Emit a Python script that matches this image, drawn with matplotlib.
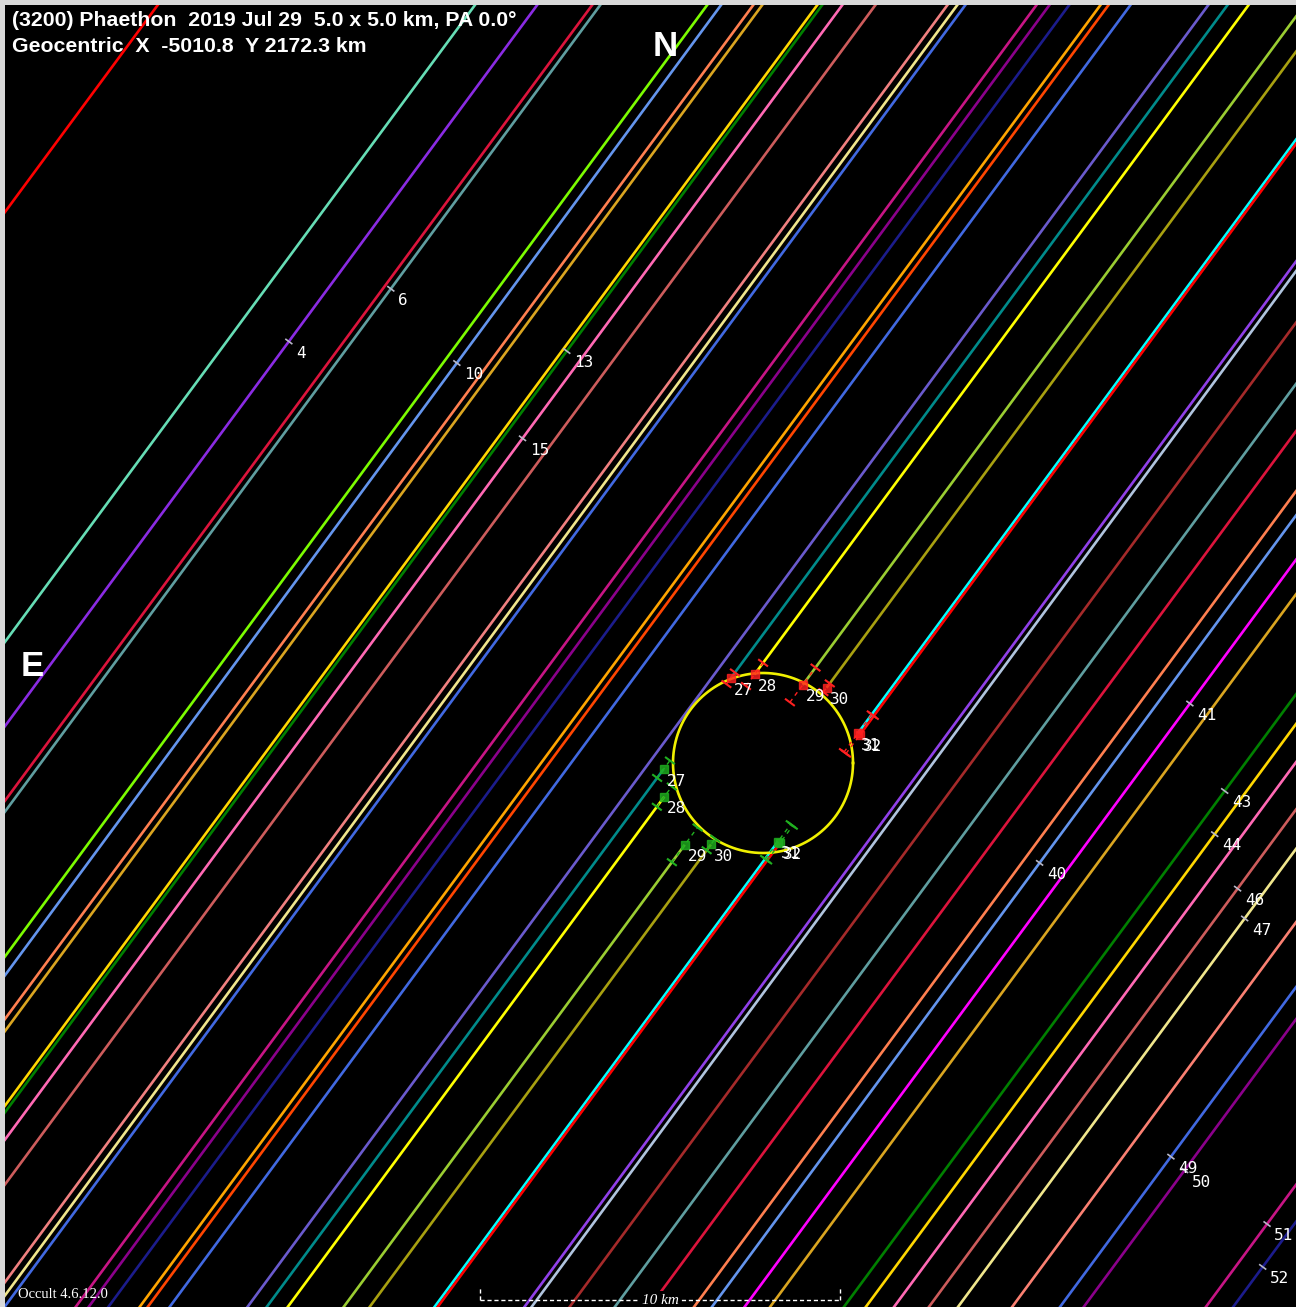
import matplotlib
matplotlib.use("Agg")
import matplotlib.pyplot as plt
import numpy as np

# chord offsets from the asteroid centre, km (perpendicular to the track)
chord_offset = [-26.03, -18.94, -17.55, -16.32, -16.14, -13.75, -13.44, -12.72,
                -12.52, -11.29, -11.18, -10.73, -9.99, -8.38, -8.16, -7.98,
                -6.39, -6.10, -5.66, -4.96, -4.78, -4.29, -2.55, -2.12,
                -1.65, -0.40, 0.18, 1.63, 1.70, 3.64, 3.80, 4.65,
                5.66, 6.44, 7.43, 7.83, 8.56, 9.13, 10.78, 11.27,
                11.90, 12.68, 13.33, 14.54, 15.61, 16.14, 18.87, 19.48]
chord_color = ["#ff0000", "#66ddb5", "#8a2be2", "#dc143c", "#5f9ea0", "#7cfc00", "#6495ed", "#ff7f50",
               "#daa520", "#ffd700", "#008000", "#ff69b4", "#cd5c5c", "#f08080", "#f0e68c", "#4169e1",
               "#c71585", "#8b008b", "#1c1c8c", "#ffa500", "#ff4500", "#4169e1", "#6a5acd", "#008b8b",
               "#ffff00", "#9acd32", "#a8a010", "#00ffff", "#ff0000", "#9040e8", "#b0c4de", "#a52a2a",
               "#5f9ea0", "#dc143c", "#ff7f50", "#6495ed", "#ff00ff", "#daa520", "#008000", "#ffd700",
               "#ff69b4", "#cd5c5c", "#f0e68c", "#fa8072", "#4169e1", "#8b008b", "#c71585", "#1c1c8c"]

# observer labels on miss chords: text, chord index, position along track (km)
label_text = ["4", "6", "10", "13", "15", "40", "41", "43", "44", "46", "47", "49", "50", "51", "52"]
label_line = [2, 4, 6, 10, 11, 35, 36, 38, 39, 41, 42, 44, 45, 46, 47]
label_s = [1.60, 4.46, 3.89, 5.97, 3.29, 2.33, 8.37, 6.99, 5.86, 5.02, 4.47, -2.07, -2.15, -1.99, -3.02]

# positive chords: disappearance / reappearance along track (km) and errors
event_text = ["27", "28", "29", "30", "31", "32"]
event_line = [23, 24, 25, 26, 27, 28]
event_d = [1.36, 1.84, 2.40, 2.73, 2.23, 2.23]
event_r = [-1.78, -2.38, -3.12, -2.68, -1.51, -1.51]
event_d_err = [0.2, 0.4, 0.6, 0.15, 0.65, 0.65]
event_r_err = [0.3, 0.35, 0.6, 0.2, 0.6, 0.6]

diameter_km = 5.0
scale_km = 10

# track direction and its normal (data coordinates, y up)
theta = np.arctan2(1.0, 0.738)
d = np.array([np.cos(theta), np.sin(theta)])
n = np.array([np.sin(theta), -np.cos(theta)])


def pos(off, s):
    return off * n[0] + s * d[0], off * n[1] + s * d[1]


W, H = 1296, 1307
fig = plt.figure(figsize=(W / 100, H / 100), dpi=100, facecolor="#d8d8d8")
ax = fig.add_axes([5 / W, 0, (W - 5) / W, (H - 5) / H])
ax.set_facecolor("black")
ax.set_xlim((5 - 763) / 36, (W - 763) / 36)
ax.set_ylim((763 - H) / 36, (763 - 5) / 36)
ax.set_xticks([])
ax.set_yticks([])
for sp in ax.spines.values():
    sp.set_visible(False)

far = 60
ev_lookup = dict(zip(event_line, range(len(event_line))))
for i, (off, col) in enumerate(zip(chord_offset, chord_color)):
    if i in ev_lookup:
        k = ev_lookup[i]
        for s0, s1 in [(-far, event_r[k]), (event_d[k], far)]:
            x0, y0 = pos(off, s0)
            x1, y1 = pos(off, s1)
            ax.plot([x0, x1], [y0, y1], color=col, lw=1.9, solid_capstyle="butt", zorder=2)
    else:
        x0, y0 = pos(off, -far)
        x1, y1 = pos(off, far)
        ax.plot([x0, x1], [y0, y1], color=col, lw=1.9, solid_capstyle="butt", zorder=2)

# asteroid outline
t = np.linspace(0, 2 * np.pi, 300)
ax.plot(diameter_km / 2 * np.cos(t), diameter_km / 2 * np.sin(t), color="#f0f000", lw=1.9, zorder=4)

tick = 0.14
lab_font = dict(color="white", fontsize=11.5, family="DejaVu Sans Mono", va="top", ha="left", zorder=7)
# event markers, error ticks, labels
for k in range(len(event_line)):
    off = chord_offset[event_line[k]]
    for s, err, col in [(event_d[k], event_d_err[k], "#ff2020"), (event_r[k], event_r_err[k], "#20b020")]:
        xa, ya = pos(off, s - err)
        xb, yb = pos(off, s + err)
        ax.plot([xa, xb], [ya, yb], color=col, lw=1.0, ls=(0, (3, 3)), zorder=5)
        for se in (s - err, s + err):
            xc, yc = pos(off, se)
            ax.plot([xc - tick * n[0], xc + tick * n[0]], [yc - tick * n[1], yc + tick * n[1]],
                    color=col, lw=1.5, zorder=5)
        xm, ym = pos(off, s)
        ax.plot(xm, ym, marker="s", ms=6, mfc=col, mec=col, alpha=0.8, zorder=6)
        ax.text(xm + 0.08, ym - 0.12, event_text[k], **lab_font)

# miss-chord observer labels
for txt, li, s in zip(label_text, label_line, label_s):
    off = chord_offset[li]
    xm, ym = pos(off, s)
    ax.plot([xm - 0.1 * n[0], xm + 0.1 * n[0]], [ym - 0.1 * n[1], ym + 0.1 * n[1]],
            color="#b8b8c8", lw=1.2, zorder=5)
    ax.text(xm + 0.2, ym - 0.12, txt, **lab_font)

# scale bar
xs0, xs1 = (480 - 763) / 36, (480 - 763) / 36 + scale_km
yb, yt = (763 - 1300) / 36, (763 - 1287) / 36
ax.plot([xs0, xs1], [yb, yb], color="white", lw=1.0, ls=(0, (3, 2)), zorder=8)
ax.plot([xs0, xs0], [yb, yt], color="white", lw=1.0, ls=(0, (3, 2)), zorder=8)
ax.plot([xs1, xs1], [yb, yt], color="white", lw=1.0, ls=(0, (3, 2)), zorder=8)
ax.text((xs0 + xs1) / 2, yb, f"{scale_km} km", color="white", fontsize=11, style="italic",
        family="Liberation Serif", ha="center", va="center", zorder=9,
        bbox=dict(facecolor="black", edgecolor="none", pad=1.5))

# header and orientation
fig.text(12 / W, 1 - 21 / H, "(3200) Phaethon  2019 Jul 29  5.0 x 5.0 km, PA 0.0\u00b0",
         color="white", fontsize=15.3, fontweight="bold", family="Liberation Sans", va="center")
fig.text(12 / W, 1 - 46 / H, "Geocentric  X  -5010.8  Y 2172.3 km",
         color="white", fontsize=15.3, fontweight="bold", family="Liberation Sans", va="center")
fig.text(665 / W, 1 - 47 / H, "N", color="white", fontsize=25, fontweight="bold",
         family="Liberation Sans", ha="center", va="center")
fig.text(32 / W, 1 - 667 / H, "E", color="white", fontsize=25, fontweight="bold",
         family="Liberation Sans", ha="center", va="center")
fig.text(18 / W, 1 - 1295 / H, "Occult 4.6.12.0", color="white", fontsize=10.5,
         family="Liberation Serif", va="center")

fig.savefig("out.png", dpi=100, facecolor=fig.get_facecolor())
